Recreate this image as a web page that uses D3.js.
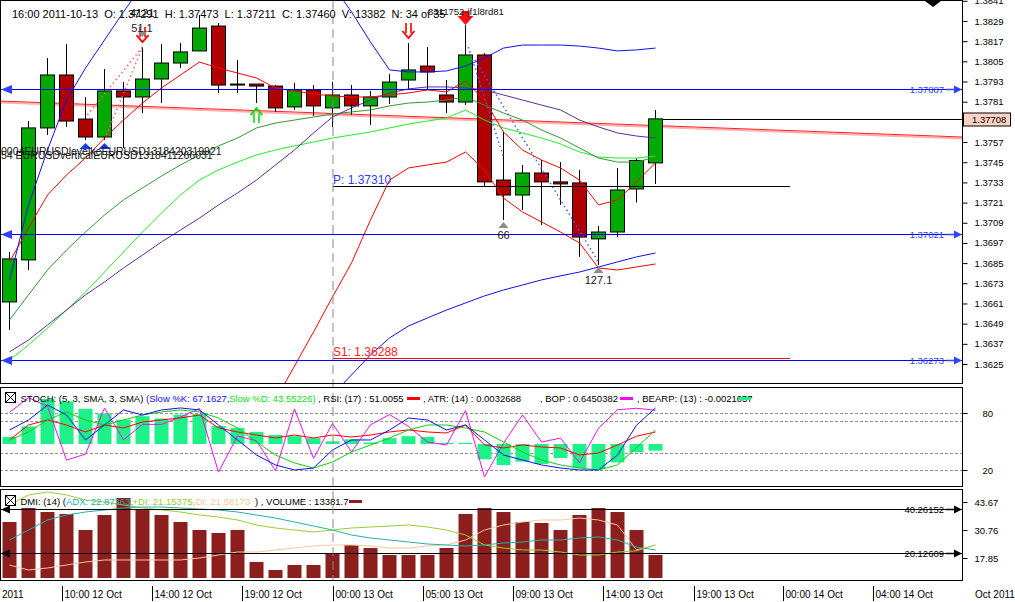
<!DOCTYPE html>
<html><head><meta charset="utf-8"><title>EURUSD H1</title>
<script src="https://cdn.jsdelivr.net/npm/d3@7/dist/d3.min.js"></script>
<style>
html,body{margin:0;padding:0;background:#fff;}
svg{display:block;font-family:"Liberation Sans",Arial,Helvetica,sans-serif;}
text{white-space:pre;}
</style></head><body>
<svg id="chart" width="1015" height="602"></svg>
<script>
// ================= DATA =================
const open  = [1.36619,1.36869,1.37654,1.37969,1.37707,1.37600,1.37874,1.37838,1.37945,1.38040,1.38112,1.38260,1.37915,1.37915,1.37903,1.37779,1.37880,1.37773,1.37850,1.37785,1.37838,1.37939,1.38022,1.37850,1.37808,1.38088,1.37344,1.37255,1.37386,1.37333,1.37327,1.36994,1.37035,1.37291,1.37446];
const high  = [1.36916,1.37695,1.38070,1.38153,1.37838,1.38005,1.37927,1.38135,1.38153,1.38159,1.38326,1.38278,1.38058,1.37915,1.37909,1.37921,1.37909,1.37927,1.37909,1.37874,1.37975,1.38159,1.38135,1.37939,1.38266,1.38100,1.37630,1.37434,1.37463,1.37451,1.37404,1.37071,1.37416,1.37473,1.37761];
const low   = [1.36452,1.36809,1.37612,1.37660,1.37582,1.37582,1.37535,1.37743,1.37802,1.38010,1.38112,1.37862,1.37862,1.37802,1.37749,1.37761,1.37725,1.37660,1.37731,1.37672,1.37796,1.37880,1.37880,1.37743,1.37790,1.37309,1.37107,1.37166,1.37077,1.37196,1.36887,1.36839,1.37005,1.37211,1.37321];
const close = [1.36875,1.37654,1.37969,1.37695,1.37600,1.37874,1.37838,1.37945,1.38040,1.38106,1.38248,1.37909,1.37915,1.37903,1.37773,1.37880,1.37785,1.37850,1.37785,1.37838,1.37927,1.37999,1.37987,1.37808,1.38088,1.37333,1.37255,1.37386,1.37333,1.37321,1.37005,1.37035,1.37285,1.37460,1.37708];

const bandUpper = [1.36750,1.37196,1.37523,1.37820,1.38010,1.38177,1.38344,1.38504,1.38653,1.38772,1.38861,1.38920,1.38950,1.38950,1.38920,1.38831,1.38683,1.38504,1.38344,1.38165,1.37999,1.37987,1.37987,1.37993,1.38022,1.38070,1.38129,1.38147,1.38147,1.38147,1.38141,1.38129,1.38112,1.38118,1.38129];
const bandLower = [null,null,null,null,null,null,null,null,null,null,null,null,null,null,null,null,null,1.36066,1.36185,1.36304,1.36405,1.36476,1.36524,1.36571,1.36613,1.36655,1.36690,1.36720,1.36750,1.36774,1.36797,1.36827,1.36857,1.36887,1.36910];
const maPurple  = [1.36322,1.36393,1.36482,1.36571,1.36661,1.36738,1.36821,1.36898,1.36976,1.37047,1.37118,1.37196,1.37267,1.37344,1.37434,1.37523,1.37624,1.37719,1.37773,1.37820,1.37862,1.37886,1.37898,1.37898,1.37892,1.37880,1.37850,1.37820,1.37790,1.37761,1.37701,1.37660,1.37624,1.37606,1.37594];
const maDarkGreen = [1.36512,1.36661,1.36809,1.36928,1.37035,1.37136,1.37226,1.37297,1.37368,1.37434,1.37493,1.37547,1.37594,1.37654,1.37683,1.37701,1.37719,1.37737,1.37749,1.37761,1.37785,1.37802,1.37808,1.37820,1.37838,1.37790,1.37743,1.37701,1.37642,1.37594,1.37535,1.37475,1.37451,1.37451,1.37481];
const maLightGreen = [1.36274,1.36363,1.36464,1.36571,1.36678,1.36797,1.36916,1.37035,1.37148,1.37255,1.37344,1.37404,1.37451,1.37493,1.37523,1.37547,1.37570,1.37594,1.37612,1.37630,1.37654,1.37677,1.37695,1.37713,1.37761,1.37701,1.37654,1.37624,1.37594,1.37559,1.37511,1.37481,1.37475,1.37475,1.37487];
const redUpper = [1.36857,1.37059,1.37255,1.37374,1.37475,1.37594,1.37701,1.37802,1.37892,1.37969,1.38046,1.38010,1.37981,1.37951,1.37892,1.37874,1.37856,1.37844,1.37838,1.37838,1.37850,1.37862,1.37880,1.37868,1.37933,1.37820,1.37630,1.37523,1.37463,1.37416,1.37344,1.37196,1.37226,1.37333,1.37446];
const redLower = [null,null,null,null,null,null,null,null,null,null,null,null,null,null,1.36036,1.36238,1.36440,1.36649,1.36851,1.37107,1.37344,1.37416,1.37434,1.37451,1.37511,1.37404,1.37237,1.37154,1.37095,1.37035,1.36970,1.36821,1.36809,1.36827,1.36845];

const levelsBlue = [1.37887, 1.37021, 1.36273];
const pivotP = 1.37310, pivotS1 = 1.36288;
const lastPrice = 1.37708;
const trendIdx = [-0.5, 50.13], trendVal = [1.37814, 1.37600];
const priceTicks = [1.3841,1.3829,1.3817,1.3805,1.3793,1.3781,1.3769,1.3757,1.3745,1.3733,1.3721,1.3709,1.3697,1.3685,1.3673,1.3661,1.3649,1.3637,1.3625];
const hiddenTickLabels = [1.3769]; // covered by the current-price box

// Stochastic panel
const stochK = [62.1,72.6,88.4,77.9,51.6,67.4,83.2,77.9,83.2,85.3,83.2,67.4,51.6,35.8,25.3,20.0,22.1,41.1,51.6,51.6,62.1,74.7,72.6,62.1,67.4,51.6,35.8,30.5,25.3,22.1,20.0,20.0,35.8,67.2,85.3];
const stochD = [51.6,60.0,72.6,81.1,72.6,67.4,72.6,77.9,81.1,83.2,81.1,74.7,64.2,49.5,35.8,27.4,22.1,28.4,38.9,46.3,53.7,62.1,67.4,67.4,64.2,60.0,49.5,38.9,30.5,25.3,22.1,20.0,25.3,43.6,62.1];
const rsi = [46.3,65.0,71.3,65.0,56.3,65.0,61.3,68.8,71.3,73.8,77.5,61.3,56.3,52.5,48.8,52.5,48.8,52.5,50.0,52.5,56.3,58.8,56.3,55.0,65.0,40.0,36.3,40.0,37.5,36.3,27.5,30.0,40.0,51.0,56.3];
const bop = [0.55,0.89,0.69,-0.56,-0.42,0.65,-0.09,0.27,0.27,0.44,0.64,-0.84,0.0,-0.11,-0.81,0.63,-0.52,0.29,-0.37,0.26,0.50,0.22,-0.14,-0.21,0.59,-0.95,-0.17,0.49,-0.14,-0.05,-0.62,0.18,0.61,0.645,0.60];
const bearp = [0.0018,0.0045,0.0115,0.0109,0.0090,0.0078,0.0062,0.0071,0.0065,0.0075,0.0077,0.0046,0.0041,0.0031,0.0023,0.0020,0.0015,0.0007,0.0012,0.0004,0.0015,0.0020,0.0018,0.0003,0.0003,-0.0039,-0.0054,-0.0045,-0.0051,-0.0036,-0.0062,-0.0064,-0.0047,-0.0021057,-0.0017];
const stochLevels = [80, 72, 38, 20];
const stochTicks = [80, 20];

// DMI / Volume panel
const adx = [26.15,30.76,35.37,37.68,39.06,39.98,40.90,41.36,41.36,40.90,40.44,39.98,39.06,37.68,36.29,34.45,32.60,30.76,28.45,27.07,26.15,25.23,24.30,23.84,23.38,23.84,24.76,25.23,26.15,26.15,27.07,27.53,26.15,22.87,21.54];
const plusDI = [42.29,46.90,48.28,46.90,44.59,43.67,42.29,40.90,39.98,39.06,37.68,36.75,35.37,33.06,31.68,30.76,29.84,30.76,31.68,32.14,32.60,33.06,32.14,30.76,28.45,23.84,22.46,21.54,21.54,20.61,19.23,19.23,20.61,21.15,23.84];
const minusDI = [14.62,12.32,13.24,14.62,16.00,16.93,16.93,16.93,16.93,16.93,17.85,19.23,20.61,20.61,21.54,22.46,23.38,23.84,23.84,23.38,22.46,22.46,23.38,23.84,26.15,30.76,33.06,34.45,35.37,35.37,36.29,35.37,33.06,21.58,23.84];
const volume = [15620,19530,18410,17860,13390,17580,22320,18970,17580,15620,13390,12560,13390,4460,2230,3630,3630,6980,9210,8370,6420,6420,6420,8370,17860,19530,18410,15620,15350,13390,17580,19530,18410,13382,6420];
const dmiLevels = [40.26152, 20.12609];
const dmiTicks = [43.67, 30.76, 17.85];

// Time axis
const timeTickIdx = [2.76,7.5,12.24,17,21.74,26.5,31.24,36,40.7,45.45];
const timeTickLabels = ["10:00 12 Oct","14:00 12 Oct","19:00 12 Oct","00:00 13 Oct","05:00 13 Oct","09:00 13 Oct","14:00 13 Oct","19:00 13 Oct","00:00 14 Oct","04:00 14 Oct"];

// ================= LAYOUT =================
const R = 962.5;
const P = {t:0.5, b:383.5}, S = {t:387.5, b:486.5}, D = {t:489.5, b:580.5};
const n = open.length;
const idx = d3.range(n);

const x = d3.scaleLinear().domain([0, 34]).range([9.5, 655.5]);
const yP = d3.scaleLinear().domain([1.3625, 1.3829]).range([364, 21]);
const yS = d3.scaleLinear().domain([20, 80]).range([470, 413]);
const yR = d3.scaleLinear().domain([30, 70]).range([453, 421]);
const yB = d3.scaleLinear().domain([-1, 1]).range([479, 393]);
const yBear = d3.scaleLinear().domain([0, 0.0115]).range([444, 399]);
const yD = d3.scaleLinear().domain([17.85, 43.67]).range([558, 502]);
const yV = d3.scaleLinear().domain([0, 22320]).range([578, 498]);

const svg = d3.select('#chart');
svg.append('rect').attr('width',1015).attr('height',602).attr('fill','#fff');
const defs = svg.append('defs');
function clip(id, p){ defs.append('clipPath').attr('id',id).append('rect').attr('x',1).attr('y',p.t+0.5).attr('width',R-1.5).attr('height',p.b-p.t-1); }
clip('cP',P); clip('cS',S); clip('cD',D);

const gP = svg.append('g').attr('clip-path','url(#cP)');
const gS = svg.append('g').attr('clip-path','url(#cS)');
const gD = svg.append('g').attr('clip-path','url(#cD)');

function pathOf(arr, ys){ return d3.line().defined(d=>d!=null).x((d,i)=>x(i)).y(d=>ys(d))(arr); }
function drawLine(g, arr, ys, color, w, dash){
  const p = g.append('path').attr('d', pathOf(arr, ys)).attr('fill','none').attr('stroke',color).attr('stroke-width',w||1);
  if(dash) p.attr('stroke-dasharray',dash);
  return p;
}

// ---------- PRICE PANEL ----------
const trendPts = trendIdx.map((t,k)=>[x(t), yP(trendVal[k])]);
gP.append('path').attr('d', d3.line()(trendPts.map(p=>[p[0],p[1]+1.5]))).attr('stroke','#ffb0b0').attr('stroke-width',2).attr('fill','none');
gP.append('path').attr('d', d3.line()(trendPts)).attr('stroke','#ff2020').attr('stroke-width',1).attr('fill','none');

const cg = gP.append('g');
idx.forEach(i=>{
  const cx = x(i);
  cg.append('line').attr('x1',cx).attr('x2',cx).attr('y1',yP(high[i])).attr('y2',yP(low[i])).attr('stroke','#000');
  const top = yP(Math.max(open[i],close[i])), bot = yP(Math.min(open[i],close[i]));
  cg.append('rect').attr('x',cx-7).attr('y',top).attr('width',14).attr('height',Math.max(1,bot-top))
    .attr('fill', close[i]>open[i] ? '#00aa00' : (close[i]<open[i] ? '#b00000' : '#000'))
    .attr('stroke','#000').attr('stroke-width',1);
});

drawLine(gP, maLightGreen, yP, '#22ee22', 1);
drawLine(gP, maDarkGreen, yP, '#339933', 1);
drawLine(gP, maPurple, yP, '#5a2ca0', 1);
drawLine(gP, redUpper, yP, '#ff0000', 1);
drawLine(gP, redLower, yP, '#ff0000', 1);
drawLine(gP, bandUpper, yP, '#1010ee', 1);
drawLine(gP, bandLower, yP, '#1010ee', 1);

const dotted = [
  {c:'#ff6060', a:[4.1,1.37731], b:[7.0,1.38135]},
  {c:'#ff6060', a:[5.1,1.37612], b:[7.0,1.38135]},
  {c:'#4060ff', a:[24.15,1.38135], b:[26.0,1.37481]},
  {c:'#4060ff', a:[24.5,1.38058], b:[31.0,1.36857]}
];
dotted.forEach(d=>{
  gP.append('line').attr('x1',x(d.a[0])).attr('y1',yP(d.a[1])).attr('x2',x(d.b[0])).attr('y2',yP(d.b[1]))
    .attr('stroke',d.c).attr('stroke-width',1.5).attr('stroke-dasharray','1.5,3');
});

levelsBlue.forEach(v=>{
  const yy = Math.round(yP(v))+0.5;
  gP.append('line').attr('x1',0).attr('x2',R).attr('y1',yy).attr('y2',yy).attr('stroke','#0000ff');
  svg.append('path').attr('d',`M1,${yy} L12,${yy-4.5} L12,${yy+4.5} Z`).attr('fill','#3040ff');
  svg.append('path').attr('d',`M946,${yy} H955`).attr('stroke','#3040ff').attr('stroke-width',1.5);
  svg.append('path').attr('d',`M954,${yy-4} L962,${yy} L954,${yy+4} Z`).attr('fill','#3040ff');
  svg.append('text').attr('x',944).attr('y',yy+3.5).attr('text-anchor','end').attr('font-size',9.5).attr('fill','#3040ff').text(v.toFixed(5));
});

const py = Math.round(yP(pivotP))+0.5, sy = Math.round(yP(pivotS1))+0.5;
gP.append('line').attr('x1',333).attr('x2',790).attr('y1',py).attr('y2',py).attr('stroke','#000');
gP.append('line').attr('x1',333).attr('x2',790).attr('y1',sy).attr('y2',sy).attr('stroke','#ff0000');
svg.append('text').attr('x',333).attr('y',py-2.5).attr('font-size',12).attr('fill','#2a3cff').text('P: '+pivotP.toFixed(5));
svg.append('text').attr('x',333).attr('y',sy-2.5).attr('font-size',12).attr('fill','#ff2020').text('S1: '+pivotS1.toFixed(5));

const ly = Math.round(yP(lastPrice))+0.5;
gP.append('line').attr('x1',x(34)+7).attr('x2',R).attr('y1',ly).attr('y2',ly).attr('stroke','#000');

function upTriangle(g, cx, ty, w, h, fill){ g.append('path').attr('d',`M${cx},${ty} L${cx+w/2},${ty+h} L${cx-w/2},${ty+h} Z`).attr('fill',fill); }
function downTriangle(g, cx, ty, w, h, fill){ g.append('path').attr('d',`M${cx-w/2},${ty} L${cx+w/2},${ty} L${cx},${ty+h} Z`).attr('fill',fill); }
[4,5].forEach(i=> upTriangle(gP, x(i), yP(low[i])+3, 12, 6, '#1a3cff'));
[7,21].forEach(i=>{
  const cx = x(i), b = yP(high[i]) - 5, t = b - 15;
  gP.append('path').attr('d',`M${cx-2.5},${t} V${b-5} M${cx+2.5},${t} V${b-5}`).attr('stroke','#ff0000').attr('stroke-width',1.6).attr('fill','none');
  gP.append('path').attr('d',`M${cx-6},${b-7} L${cx},${b} L${cx+6},${b-7}`).attr('stroke','#ff0000').attr('stroke-width',1.8).attr('fill','none');
});
[24].forEach(i=>{
  const cx = x(i), b = yP(high[i]);
  gP.append('path').attr('d',`M${cx-4},${b-14} H${cx+4} V${b-9} H${cx+8} L${cx},${b} L${cx-8},${b-9} H${cx-4} Z`).attr('fill','#ff1010');
});
[13].forEach(i=>{
  const cx = x(i), t = yP(low[i]) + 5, b = t + 15;
  gP.append('path').attr('d',`M${cx-2.5},${t+5} V${b} M${cx+2.5},${t+5} V${b}`).attr('stroke','#10dd10').attr('stroke-width',1.6).attr('fill','none');
  gP.append('path').attr('d',`M${cx-6},${t+7} L${cx},${t} L${cx+6},${t+7}`).attr('stroke','#10dd10').attr('stroke-width',1.8).attr('fill','none');
});
const greyUps = [{i:26, label:'66'},{i:31, label:'127.1'}];
greyUps.forEach(m=>{
  const t = yP(low[m.i]) + 2;
  upTriangle(gP, x(m.i), t, 10, 6, '#8c8c8c');
  svg.append('text').attr('x',x(m.i)).attr('y',t+17).attr('text-anchor','middle').attr('font-size',11).attr('fill','#222').text(m.label);
});
const greyDowns = [{i:7, label:'51.1'}];
greyDowns.forEach(m=>{
  const b = yP(high[m.i]) - 10;
  downTriangle(gP, x(m.i), b-6, 10, 6, '#8c8c8c');
  svg.append('text').attr('x',x(m.i)-0.5).attr('y',b-5).attr('text-anchor','middle').attr('font-size',11).attr('fill','#222').text(m.label);
});

// object label clutter (overlapping in the original too)
svg.append('text').attr('x',1).attr('y',155).attr('font-size',10.5).attr('fill','#111').text('0004EURUSDlevelkeEURUSD1318420319921');
svg.append('text').attr('x',1).attr('y',159).attr('font-size',10.5).attr('fill','#111').text('54 EURUSDverticalEURUSD1318411266031');
svg.append('text').attr('x',130).attr('y',17).attr('font-size',11).attr('fill','#111').text('4121');
svg.append('text').attr('x',428).attr('y',15).attr('font-size',9.5).attr('fill','#111').text('3311752-jf1l8rd81');

// ---------- STOCH PANEL ----------
stochLevels.forEach(v=>{
  const yy = Math.round(yS(v))+0.5;
  gS.append('line').attr('x1',0).attr('x2',R).attr('y1',yy).attr('y2',yy).attr('stroke','#909090').attr('stroke-dasharray','3,2');
});
idx.forEach(i=>{
  const y0 = yBear(0), y1 = yBear(bearp[i]);
  gS.append('rect').attr('x',x(i)-7).attr('y',Math.min(y0,y1)).attr('width',14).attr('height',Math.max(1,Math.abs(y1-y0))).attr('fill','#1ef08a');
});
drawLine(gS, bop, yB, '#ee10ee', 1);
drawLine(gS, rsi, yR, '#ff0000', 1);
drawLine(gS, stochD, yS, '#10cc10', 1);
drawLine(gS, stochK, yS, '#1010ee', 1);

// ---------- DMI / VOLUME PANEL ----------
idx.forEach(i=>{
  gD.append('rect').attr('x',x(i)-7).attr('y',yV(volume[i])).attr('width',14).attr('height',yV(0)-yV(volume[i])).attr('fill','#8c1e1e');
});
drawLine(gD, minusDI, yD, '#f5c89a', 1);
drawLine(gD, plusDI, yD, '#9acd32', 1);
drawLine(gD, adx, yD, '#20b2aa', 1);
dmiLevels.forEach(v=>{
  const yy = Math.round(yD(v))+0.5;
  gD.append('line').attr('x1',0).attr('x2',R).attr('y1',yy).attr('y2',yy).attr('stroke','#000');
  svg.append('path').attr('d',`M1,${yy} L10,${yy-4} L10,${yy+4} Z`).attr('fill','#000');
  svg.append('path').attr('d',`M946,${yy} H955`).attr('stroke','#000').attr('stroke-width',1.5);
  svg.append('path').attr('d',`M954,${yy-4} L962,${yy} L954,${yy+4} Z`).attr('fill','#000');
  svg.append('text').attr('x',944).attr('y',yy+3.5).attr('text-anchor','end').attr('font-size',9.5).attr('fill','#000').text(v.toFixed(5));
});

svg.append('line').attr('x1',333).attr('x2',333).attr('y1',1).attr('y2',580).attr('stroke','#888').attr('stroke-dasharray','9,5');

// ---------- FRAMES & AXES ----------
[P,S,D].forEach(p=>{
  svg.append('rect').attr('x',0.5).attr('y',p.t).attr('width',R-0.5).attr('height',p.b-p.t).attr('fill','none').attr('stroke','#000');
});
function styleAxis(g, fs){
  g.select('.domain').remove();
  g.selectAll('.tick line').attr('stroke','#000');
  g.selectAll('.tick text').attr('font-size',fs).attr('font-family','"Liberation Sans",Arial,sans-serif').attr('fill','#000');
}
const axP = svg.append('g').attr('transform',`translate(${R},0)`)
  .call(d3.axisRight(yP).tickValues(priceTicks).tickSize(5).tickPadding(7)
    .tickFormat(v => hiddenTickLabels.includes(v) ? '' : d3.format('.4f')(v)));
styleAxis(axP, 9.5);
const axS = svg.append('g').attr('transform',`translate(${R},0)`).call(d3.axisRight(yS).tickValues(stochTicks).tickSize(5).tickPadding(15).tickFormat(d3.format('d')));
styleAxis(axS, 9.5);
const axD = svg.append('g').attr('transform',`translate(${R},0)`).call(d3.axisRight(yD).tickValues(dmiTicks).tickSize(5).tickPadding(7).tickFormat(d3.format('.2f')));
styleAxis(axD, 9.5);

svg.append('rect').attr('x',963.5).attr('y',ly-6.5).attr('width',47).attr('height',13).attr('fill','#ffd2c2').attr('stroke','#000');
svg.append('text').attr('x',972).attr('y',ly+3.5).attr('font-size',9.5).attr('fill','#000').text(lastPrice.toFixed(5));

svg.append('path').attr('d','M925,1 L941,1 L933,7 Z').attr('fill','#000');

// time axis
const gx = svg.append('g');
gx.append('text').attr('x',2).attr('y',598).attr('font-size',10).text('2011');
timeTickIdx.forEach((t,k)=>{
  const xx = Math.round(x(t))+0.5;
  gx.append('line').attr('x1',xx).attr('x2',xx).attr('y1',586).attr('y2',601).attr('stroke','#000');
  gx.append('text').attr('x',xx+2).attr('y',598).attr('font-size',10).attr('fill','#000').text(timeTickLabels[k]);
});
gx.append('text').attr('x',975).attr('y',598).attr('font-size',10).text('Oct 2011');

// ---------- HEADERS ----------
svg.append('text').attr('x',12).attr('y',17.5).attr('font-size',11).attr('fill','#000')
  .text('16:00 2011-10-13  O: 1.37291  H: 1.37473  L: 1.37211  C: 1.37460  V: 13382  N: 34 of 35');

function iconBox(yy){
  svg.append('rect').attr('x',5.5).attr('y',yy-9.5).attr('width',10).attr('height',10).attr('fill','#fff').attr('stroke','#000');
  svg.append('path').attr('d',`M6,${yy-9} L15,${yy} M15,${yy-9} L6,${yy}`).attr('stroke','#000');
}
function seg(xx, yy, txt, col){ svg.append('text').attr('x',xx).attr('y',yy).attr('font-size',9.5).attr('fill',col).text(txt); }
function dash(x0, yy, col){ svg.append('rect').attr('x',x0).attr('y',yy-5).attr('width',13).attr('height',3).attr('fill',col); }
const sh = 402;
iconBox(sh);
seg(20.5, sh, 'STOCH: (5, 3, SMA, 3, SMA)', '#000');
seg(146, sh, '(Slow %K: 67.1627,', '#1010ee');
seg(229, sh, 'Slow %D: 43.55226)', '#10dd10');
seg(318, sh, ', RSI: (17) : 51.0055', '#000');
dash(407, sh, '#ff0000');
seg(423, sh, ', ATR: (14) : 0.0032688', '#000');
seg(540, sh, ', BOP : 0.6450382', '#000');
dash(620, sh, '#ee10ee');
seg(637, sh, ', BEARP: (13) : -0.0021057', '#000');
dash(738, sh, '#1ef08a');

const dh = 505;
iconBox(dh);
seg(20.5, dh, 'DMI: (14) (', '#000');
seg(66, dh, 'ADX: 22.87363,', '#20b2aa');
seg(132.5, dh, '+DI: 21.15375,', '#9acd32');
seg(192.5, dh, '-DI: 21.58173', '#f5c89a');
seg(255, dh, ') , VOLUME : 13381.7', '#000');
dash(349, dh, '#8c1e1e');
</script>
</body></html>
